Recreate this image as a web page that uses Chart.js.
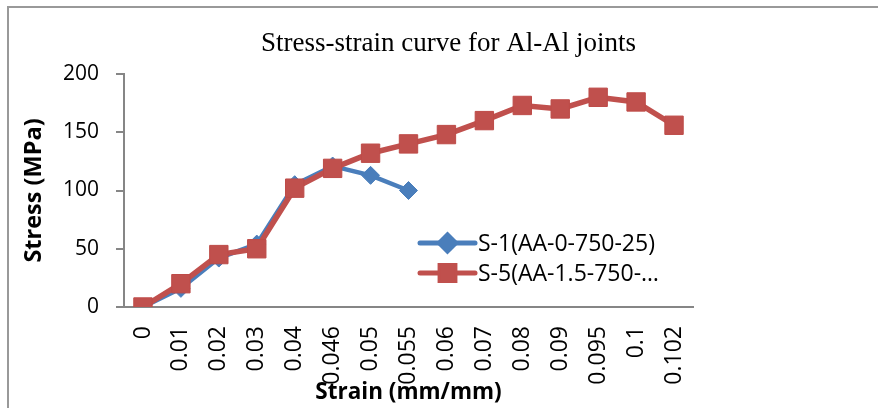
<!DOCTYPE html>
<html>
<head>
<meta charset="utf-8">
<script src="https://cdn.jsdelivr.net/npm/chart.js@4.4.1/dist/chart.umd.min.js"></script>
<style>
  html, body { margin: 0; padding: 0; background: #fff; }
  #wrap { position: relative; width: 878px; height: 408px; overflow: hidden; }
  #frame { position: absolute; left: 7px; top: 6px; width: 900px; height: 500px;
           border-top: 2px solid #999; border-left: 2px solid #999; }
  canvas { position: absolute; left: 0; top: 0; }
</style>
</head>
<body>
<div id="wrap">
  <div id="frame"></div>
  <canvas id="chart" width="878" height="408"></canvas>
</div>
<script>
// strain categories (x axis)
const strainLabels = ['0', '0.01', '0.02', '0.03', '0.04', '0.046', '0.05', '0.055',
                      '0.06', '0.07', '0.08', '0.09', '0.095', '0.1', '0.102'];
// stress values in MPa
const s1Values = [0, 16, 42, 54, 105, 121, 113, 100];
const s5Values = [0, 20, 45, 50, 102, 119, 132, 140, 148, 160, 173, 170, 180, 176, 156];
const yTicks = [0, 50, 100, 150, 200];

const sansFont = "'Open Sans', 'Liberation Sans', sans-serif";

// legend drawn over the plot, like the original
const legendPlugin = {
  id: 'overLegend',
  afterDraw(chart) {
    const ctx = chart.ctx;
    const x0 = 420, x1 = 475, tx = 478;
    const rows = [243, 273];
    chart.data.datasets.forEach((ds, i) => {
      const y = rows[i];
      ctx.save();
      ctx.strokeStyle = ds.borderColor;
      ctx.lineWidth = 5;
      ctx.lineCap = 'round';
      ctx.beginPath();
      ctx.moveTo(x0, y);
      ctx.lineTo(x1, y);
      ctx.stroke();
      Chart.helpers.drawPoint(ctx, {
        pointStyle: ds.pointStyle,
        radius: ds.pointStyle === 'rect' ? 10.5 : 8,
        borderWidth: 1,
        rotation: 0
      }, (x0 + x1) / 2, y);
      ctx.fillStyle = ds.pointBackgroundColor;
      ctx.fill();
      ctx.fillStyle = '#000';
      ctx.font = '23px ' + sansFont;
      ctx.textBaseline = 'middle';
      ctx.textAlign = 'left';
      ctx.fillText(ds.label, tx, y + 1);
      ctx.restore();
    });
  }
};

new Chart(document.getElementById('chart'), {
  type: 'line',
  data: {
    labels: strainLabels,
    datasets: [{
      label: 'S-1(AA-0-750-25)',
      data: s1Values,
      borderColor: '#4A7EBB',
      backgroundColor: '#4A7EBB',
      pointBackgroundColor: '#4A7EBB',
      pointBorderColor: '#4A7EBB',
      borderWidth: 4.5,
      pointStyle: 'rectRot',
      pointRadius: 9,
      pointBorderWidth: 1,
      tension: 0,
      order: 1
    }, {
      label: 'S-5(AA-1.5-750-…',
      data: s5Values,
      borderColor: '#C0504D',
      backgroundColor: '#C0504D',
      pointBackgroundColor: '#C0504D',
      pointBorderColor: '#BE4B48',
      borderWidth: 5.5,
      pointStyle: 'rect',
      pointRadius: 13,
      pointBorderWidth: 1,
      tension: 0,
      order: 0
    }]
  },
  options: {
    responsive: false,
    animation: false,
    events: [],
    layout: { padding: { left: 19, right: 0, top: 0, bottom: 0 } },
    plugins: {
      legend: { display: false },
      tooltip: { enabled: false },
      title: {
        display: true,
        text: 'Stress-strain curve for Al-Al joints',
        color: '#000',
        font: { family: "'Liberation Serif', 'Times New Roman', serif", size: 27, weight: 'normal' },
        lineHeight: 1.2,
        padding: { top: 28, bottom: 13.6 }
      }
    },
    scales: {
      x: {
        offset: true,
        afterFit(axis) { axis.height = 101; },
        grid: { display: true, drawOnChartArea: false, drawTicks: false, offset: true },
        border: { color: '#868686', width: 2 },
        ticks: {
          color: '#000',
          font: { family: sansFont, size: 23 },
          minRotation: 90,
          maxRotation: 90,
          padding: 19,
          autoSkip: false
        },
        title: {
          display: true,
          text: 'Strain (mm/mm)',
          color: '#000',
          font: { family: sansFont, size: 22.5, weight: 'bold' },
          padding: { top: 0, bottom: 2 }
        }
      },
      y: {
        min: 0,
        max: 200,
        afterFit(axis) { axis.width = 105; },
        afterBuildTicks(axis) { axis.ticks = yTicks.map(v => ({ value: v })); },
        grid: { display: true, drawOnChartArea: false, drawTicks: true, tickLength: 8, color: '#868686', lineWidth: 2 },
        border: { color: '#868686', width: 2 },
        ticks: {
          color: '#000',
          font: { family: sansFont, size: 21 },
          padding: 17
        },
        title: {
          display: true,
          text: 'Stress (MPa)',
          color: '#000',
          font: { family: sansFont, size: 23.5, weight: 'bold' },
          padding: { top: 1, bottom: 0 }
        }
      },
      // empty space on the right of the plot, keeps the title centred on the frame
      spacer: {
        type: 'linear',
        position: 'right',
        display: true,
        afterFit(axis) { axis.width = 185; },
        grid: { display: false },
        border: { display: false },
        ticks: { display: false }
      }
    }
  },
  plugins: [legendPlugin]
});
</script>
</body>
</html>
